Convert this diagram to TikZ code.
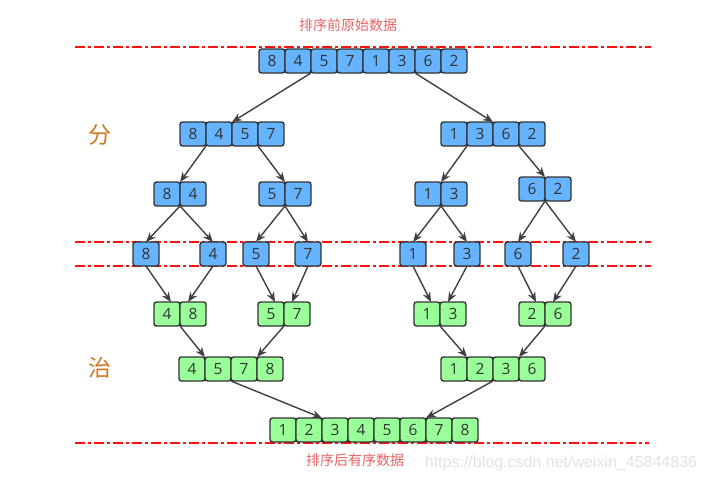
\documentclass[tikz,border=0pt]{standalone}
\usepackage{fontspec}
\setmainfont{Open Sans}
\newfontfamily\cjk{Noto Sans CJK SC}
\newfontfamily\urlfont{Liberation Sans}
\usetikzlibrary{arrows.meta}
\definecolor{cellblue}{HTML}{66B3FF}
\definecolor{cellgreen}{HTML}{99FF99}
\definecolor{edgegray}{HTML}{333333}
\definecolor{arrowgray}{HTML}{404040}
\definecolor{sepred}{HTML}{FF1010}
\definecolor{labelred}{HTML}{E86464}
\definecolor{labelorange}{HTML}{CC7722}
\definecolor{wmgray}{HTML}{E2E2E2}
\tikzset{
  cellbase/.style={draw=edgegray, line width=1.4pt, rounded corners=2.5pt,
    minimum width=26pt, minimum height=24pt, inner sep=0pt, outer sep=0pt,
    font=\fontsize{15.5}{15.5}\selectfont, text=edgegray},
  bluecell/.style={cellbase, fill=cellblue},
  greencell/.style={cellbase, fill=cellgreen},
  conn/.style={draw=arrowgray, line width=1.4pt, -{Stealth[length=10pt,width=8pt]}},
  sepline/.style={draw=sepred, line width=1.3pt, dash pattern=on 10pt off 3pt on 3pt off 3pt},
}
\newcommand\mkrow[5]{%
  \foreach \v [count=\i] in {#5} {
    \node[#2] (#1-\i) at ({#3+13+26*(\i-1)},#4) {\v};
  }%
}
\begin{document}
\begin{tikzpicture}[x=1pt,y=-1pt]
\useasboundingbox (0,0) rectangle (724,485);

% separator lines
\coordinate (la1) at (75,47);  \coordinate (lb1) at (651,47);
\coordinate (la2) at (75,242); \coordinate (lb2) at (651,242);
\coordinate (la3) at (75,266); \coordinate (lb3) at (651,266);
\coordinate (la4) at (75,443); \coordinate (lb4) at (649,443);
\draw[sepline] (la1) -- (lb1);
\draw[sepline] (la2) -- (lb2);
\draw[sepline] (la3) -- (lb3);
\draw[sepline] (la4) -- (lb4);

% labels
\node[text=labelred, font=\cjk\fontsize{14}{14}\selectfont] (toplab) at (348,25) {排序前原始数据};
\node[text=labelred, font=\cjk\fontsize{14}{14}\selectfont] (botlab) at (355,460) {排序后有序数据};
\node[text=labelorange, font=\cjk\fontsize{23}{23}\selectfont] (fen) at (100,135) {分};
\node[text=labelorange, font=\cjk\fontsize{23}{23}\selectfont] (zhi) at (100,368) {治};
\node[text=wmgray, font=\urlfont\fontsize{16}{16}\selectfont] (url) at (561,463) {https://blog.csdn.net/weixin\_45844836};

% divide rows
\mkrow{T}{bluecell}{259}{61}{8,4,5,7,1,3,6,2}
\mkrow{A}{bluecell}{180}{134}{8,4,5,7}
\mkrow{B}{bluecell}{441}{134}{1,3,6,2}
\mkrow{C}{bluecell}{154}{194}{8,4}
\mkrow{D}{bluecell}{259}{194}{5,7}
\mkrow{E}{bluecell}{415}{194}{1,3}
\mkrow{F}{bluecell}{519}{189}{6,2}
\node[bluecell] (s1) at (146,254) {8};
\node[bluecell] (s2) at (213,254) {4};
\node[bluecell] (s3) at (256,254) {5};
\node[bluecell] (s4) at (308,254) {7};
\node[bluecell] (s5) at (413,254) {1};
\node[bluecell] (s6) at (467,254) {3};
\node[bluecell] (s7) at (518,254) {6};
\node[bluecell] (s8) at (576,254) {2};

% conquer rows
\mkrow{G}{greencell}{154}{314}{4,8}
\mkrow{H}{greencell}{258}{314}{5,7}
\mkrow{I}{greencell}{414}{314}{1,3}
\mkrow{J}{greencell}{519}{314}{2,6}
\mkrow{K}{greencell}{179}{369}{4,5,7,8}
\mkrow{L}{greencell}{441}{369}{1,2,3,6}
\mkrow{M}{greencell}{270}{430}{1,2,3,4,5,6,7,8}

% divide connectors
\draw[conn] (T-2.south east) -- (A-2.north east);
\draw[conn] (T-6.south east) -- (B-2.north east);
\draw[conn] (A-1.south east) -- (C-1.north east);
\draw[conn] (A-3.south east) -- (D-1.north east);
\draw[conn] (B-1.south east) -- (E-1.north east);
\draw[conn] (B-3.south east) -- (F-1.north east);
\draw[conn] (C-1.south east) -- (s1.north);
\draw[conn] (C-1.south east) -- (s2.north);
\draw[conn] (D-1.south east) -- (s3.north);
\draw[conn] (D-1.south east) -- (s4.north);
\draw[conn] (E-1.south east) -- (s5.north);
\draw[conn] (E-1.south east) -- (s6.north);
\draw[conn] (F-1.south east) -- (s7.north);
\draw[conn] (F-1.south east) -- (s8.north);

% conquer connectors
\draw[conn] (s1.south) -- ([xshift=-9pt]G-1.north east);
\draw[conn] (s2.south) -- ([xshift=8pt]G-1.north east);
\draw[conn] (s3.south) -- ([xshift=-9pt]H-1.north east);
\draw[conn] (s4.south) -- ([xshift=8pt]H-1.north east);
\draw[conn] (s5.south) -- ([xshift=-9pt]I-1.north east);
\draw[conn] (s6.south) -- ([xshift=8pt]I-1.north east);
\draw[conn] (s7.south) -- ([xshift=-9pt]J-1.north east);
\draw[conn] (s8.south) -- ([xshift=8pt]J-1.north east);
\draw[conn] (G-1.south east) -- (K-1.north east);
\draw[conn] (H-1.south east) -- (K-3.north east);
\draw[conn] (I-1.south east) -- (L-1.north east);
\draw[conn] (J-1.south east) -- (L-3.north east);
\draw[conn] (K-2.south east) -- (M-2.north east);
\draw[conn] (L-2.south east) -- (M-6.north east);
\end{tikzpicture}
\end{document}
